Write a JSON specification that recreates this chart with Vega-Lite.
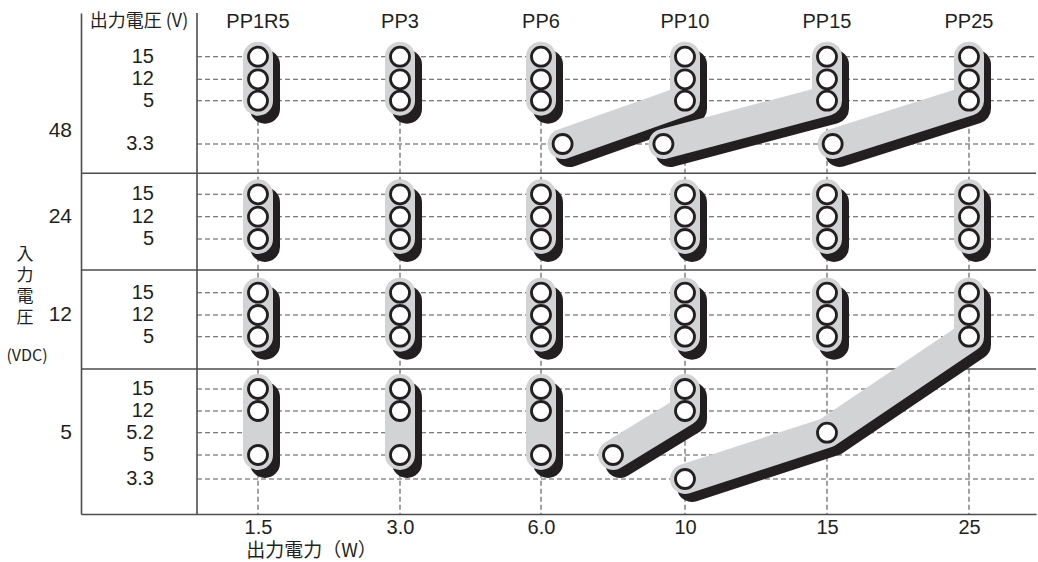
{
  "$schema": "https://vega.github.io/schema/vega-lite/v6.json",
  "width": 955,
  "height": 501,
  "autosize": {"type": "none"},
  "padding": {"left": 81, "top": 13, "right": 2, "bottom": 48},
  "background": "white",
  "config": {"view": {"stroke": null}, "font": "Liberation Sans"},
  "resolve": {"axis": {"x": "independent", "y": "independent"}},
  "datasets": {
    "shapes": [
      {"s": "a1", "m": "PP1R5", "vin": 48, "vout": 15, "w": 1.5, "seq": 1},
      {"s": "a1", "m": "PP1R5", "vin": 48, "vout": 12, "w": 1.5, "seq": 2},
      {"s": "a1", "m": "PP1R5", "vin": 48, "vout": 5, "w": 1.5, "seq": 3},
      {"s": "a2", "m": "PP3", "vin": 48, "vout": 15, "w": 3, "seq": 1},
      {"s": "a2", "m": "PP3", "vin": 48, "vout": 12, "w": 3, "seq": 2},
      {"s": "a2", "m": "PP3", "vin": 48, "vout": 5, "w": 3, "seq": 3},
      {"s": "a3", "m": "PP6", "vin": 48, "vout": 15, "w": 6, "seq": 1},
      {"s": "a3", "m": "PP6", "vin": 48, "vout": 12, "w": 6, "seq": 2},
      {"s": "a3", "m": "PP6", "vin": 48, "vout": 5, "w": 6, "seq": 3},
      {"s": "a4", "m": "PP10", "vin": 48, "vout": 3.3, "w": 6.6, "seq": 1},
      {"s": "a4", "m": "PP10", "vin": 48, "vout": 5, "w": 10, "seq": 2},
      {"s": "a4", "m": "PP10", "vin": 48, "vout": 12, "w": 10, "seq": 3},
      {"s": "a4", "m": "PP10", "vin": 48, "vout": 15, "w": 10, "seq": 4},
      {"s": "a5", "m": "PP15", "vin": 48, "vout": 3.3, "w": 9.4, "seq": 1},
      {"s": "a5", "m": "PP15", "vin": 48, "vout": 5, "w": 15, "seq": 2},
      {"s": "a5", "m": "PP15", "vin": 48, "vout": 12, "w": 15, "seq": 3},
      {"s": "a5", "m": "PP15", "vin": 48, "vout": 15, "w": 15, "seq": 4},
      {"s": "a6", "m": "PP25", "vin": 48, "vout": 3.3, "w": 15.4, "seq": 1},
      {"s": "a6", "m": "PP25", "vin": 48, "vout": 5, "w": 25, "seq": 2},
      {"s": "a6", "m": "PP25", "vin": 48, "vout": 12, "w": 25, "seq": 3},
      {"s": "a6", "m": "PP25", "vin": 48, "vout": 15, "w": 25, "seq": 4},
      {"s": "b1", "m": "PP1R5", "vin": 24, "vout": 15, "w": 1.5, "seq": 1},
      {"s": "b1", "m": "PP1R5", "vin": 24, "vout": 12, "w": 1.5, "seq": 2},
      {"s": "b1", "m": "PP1R5", "vin": 24, "vout": 5, "w": 1.5, "seq": 3},
      {"s": "b2", "m": "PP3", "vin": 24, "vout": 15, "w": 3, "seq": 1},
      {"s": "b2", "m": "PP3", "vin": 24, "vout": 12, "w": 3, "seq": 2},
      {"s": "b2", "m": "PP3", "vin": 24, "vout": 5, "w": 3, "seq": 3},
      {"s": "b3", "m": "PP6", "vin": 24, "vout": 15, "w": 6, "seq": 1},
      {"s": "b3", "m": "PP6", "vin": 24, "vout": 12, "w": 6, "seq": 2},
      {"s": "b3", "m": "PP6", "vin": 24, "vout": 5, "w": 6, "seq": 3},
      {"s": "b4", "m": "PP10", "vin": 24, "vout": 15, "w": 10, "seq": 1},
      {"s": "b4", "m": "PP10", "vin": 24, "vout": 12, "w": 10, "seq": 2},
      {"s": "b4", "m": "PP10", "vin": 24, "vout": 5, "w": 10, "seq": 3},
      {"s": "b5", "m": "PP15", "vin": 24, "vout": 15, "w": 15, "seq": 1},
      {"s": "b5", "m": "PP15", "vin": 24, "vout": 12, "w": 15, "seq": 2},
      {"s": "b5", "m": "PP15", "vin": 24, "vout": 5, "w": 15, "seq": 3},
      {"s": "b6", "m": "PP25", "vin": 24, "vout": 15, "w": 25, "seq": 1},
      {"s": "b6", "m": "PP25", "vin": 24, "vout": 12, "w": 25, "seq": 2},
      {"s": "b6", "m": "PP25", "vin": 24, "vout": 5, "w": 25, "seq": 3},
      {"s": "c1", "m": "PP1R5", "vin": 12, "vout": 15, "w": 1.5, "seq": 1},
      {"s": "c1", "m": "PP1R5", "vin": 12, "vout": 12, "w": 1.5, "seq": 2},
      {"s": "c1", "m": "PP1R5", "vin": 12, "vout": 5, "w": 1.5, "seq": 3},
      {"s": "c2", "m": "PP3", "vin": 12, "vout": 15, "w": 3, "seq": 1},
      {"s": "c2", "m": "PP3", "vin": 12, "vout": 12, "w": 3, "seq": 2},
      {"s": "c2", "m": "PP3", "vin": 12, "vout": 5, "w": 3, "seq": 3},
      {"s": "c3", "m": "PP6", "vin": 12, "vout": 15, "w": 6, "seq": 1},
      {"s": "c3", "m": "PP6", "vin": 12, "vout": 12, "w": 6, "seq": 2},
      {"s": "c3", "m": "PP6", "vin": 12, "vout": 5, "w": 6, "seq": 3},
      {"s": "c4", "m": "PP10", "vin": 12, "vout": 15, "w": 10, "seq": 1},
      {"s": "c4", "m": "PP10", "vin": 12, "vout": 12, "w": 10, "seq": 2},
      {"s": "c4", "m": "PP10", "vin": 12, "vout": 5, "w": 10, "seq": 3},
      {"s": "c5", "m": "PP15", "vin": 12, "vout": 15, "w": 15, "seq": 1},
      {"s": "c5", "m": "PP15", "vin": 12, "vout": 12, "w": 15, "seq": 2},
      {"s": "c5", "m": "PP15", "vin": 12, "vout": 5, "w": 15, "seq": 3},
      {"s": "d1", "m": "PP1R5", "vin": 5, "vout": 15, "w": 1.5, "seq": 1},
      {"s": "d1", "m": "PP1R5", "vin": 5, "vout": 12, "w": 1.5, "seq": 2},
      {"s": "d1", "m": "PP1R5", "vin": 5, "vout": 5, "w": 1.5, "seq": 3},
      {"s": "d2", "m": "PP3", "vin": 5, "vout": 15, "w": 3, "seq": 1},
      {"s": "d2", "m": "PP3", "vin": 5, "vout": 12, "w": 3, "seq": 2},
      {"s": "d2", "m": "PP3", "vin": 5, "vout": 5, "w": 3, "seq": 3},
      {"s": "d3", "m": "PP6", "vin": 5, "vout": 15, "w": 6, "seq": 1},
      {"s": "d3", "m": "PP6", "vin": 5, "vout": 12, "w": 6, "seq": 2},
      {"s": "d3", "m": "PP6", "vin": 5, "vout": 5, "w": 6, "seq": 3},
      {"s": "d4", "m": "PP10", "vin": 5, "vout": 5, "w": 8, "seq": 1},
      {"s": "d4", "m": "PP10", "vin": 5, "vout": 12, "w": 10, "seq": 2},
      {"s": "d4", "m": "PP10", "vin": 5, "vout": 15, "w": 10, "seq": 3},
      {"s": "d5", "m": "PP15/PP25", "vin": 5, "vout": 3.3, "w": 10, "seq": 1},
      {"s": "d5", "m": "PP15/PP25", "vin": 5, "vout": 5.2, "w": 15, "seq": 2},
      {"s": "d5", "m": "PP25", "vin": 12, "vout": 5, "w": 25, "seq": 3},
      {"s": "d5", "m": "PP25", "vin": 12, "vout": 12, "w": 25, "seq": 4},
      {"s": "d5", "m": "PP25", "vin": 12, "vout": 15, "w": 25, "seq": 5}
    ],
    "levels": [
      {"vin": 48, "vout": 15}, {"vin": 48, "vout": 12}, {"vin": 48, "vout": 5}, {"vin": 48, "vout": 3.3},
      {"vin": 24, "vout": 15}, {"vin": 24, "vout": 12}, {"vin": 24, "vout": 5},
      {"vin": 12, "vout": 15}, {"vin": 12, "vout": 12}, {"vin": 12, "vout": 5},
      {"vin": 5, "vout": 15}, {"vin": 5, "vout": 12}, {"vin": 5, "vout": 5.2}, {"vin": 5, "vout": 5}, {"vin": 5, "vout": 3.3}
    ],
    "vinLabels": [
      {"label": "48", "vin": 48, "vout": 3.8},
      {"label": "24", "vin": 24, "vout": 12},
      {"label": "12", "vin": 12, "vout": 12},
      {"label": "5", "vin": 5, "vout": 5.2}
    ],
    "models": [
      {"m": "PP1R5", "w": 1.5},
      {"m": "PP3", "w": 3},
      {"m": "PP6", "w": 6},
      {"m": "PP10", "w": 10},
      {"m": "PP15", "w": 15},
      {"m": "PP25", "w": 25}
    ]
  },
  "layer": [
    {
      "data": {"name": "shapes"},
      "transform": [{"calculate": "datum.vin * 100 + datum.vout", "as": "level"}],
      "mark": {"type": "point", "opacity": 0},
      "encoding": {
        "x": {
          "field": "w", "type": "quantitative",
          "scale": {"domain": [-3, 0, 1.5, 3, 6, 10, 15, 25, 30], "range": [0, 116, 177, 319, 460, 604, 746, 888, 955], "zero": false, "nice": false},
          "axis": {
            "values": [1.5, 3, 6, 10, 15, 25],
            "labelExpr": "datum.value < 10 ? format(datum.value, '.1f') : format(datum.value, 'd')",
            "ticks": false, "grid": false,
            "domainColor": "#4d4d4d", "domainWidth": 1.6,
            "labelFont": "Liberation Sans", "labelFontSize": 20, "labelColor": "#231f20", "labelPadding": 3,
            "labelFlush": false, "labelOverlap": false,
            "title": "出力電力（W）", "titleFont": "Noto Sans CJK JP", "titleFontSize": 19, "titleFontWeight": "normal",
            "titleColor": "#231f20", "titleX": 230, "titleY": 36, "titleAlign": "center", "titleBaseline": "middle"
          }
        },
        "y": {
          "field": "level", "type": "quantitative",
          "scale": {
            "domain": [500, 503.3, 505, 505.2, 512, 515, 1200, 1205, 1212, 1215, 2400, 2405, 2412, 2415, 4800, 4803.3, 4805, 4812, 4815, 4820],
            "range": [501, 466, 442, 419.7, 398, 376, 356, 323.7, 302, 279.7, 257, 226, 203.7, 181.3, 160.3, 131, 87.7, 66.3, 43.7, 0],
            "zero": false, "nice": false
          },
          "axis": {
            "ticks": false, "labels": false, "grid": false, "title": null,
            "domainColor": "#4d4d4d", "domainWidth": 1.6
          }
        }
      }
    },
    {
      "data": {"values": [{}]},
      "mark": {"type": "rule", "color": "#4d4d4d", "strokeWidth": 1.6},
      "encoding": {"x": {"datum": 0, "axis": null}}
    },
    {
      "data": {"values": [{"b": 4800}, {"b": 2400}, {"b": 1200}]},
      "mark": {"type": "rule", "color": "#4d4d4d", "strokeWidth": 1.6},
      "encoding": {"y": {"field": "b", "type": "quantitative", "axis": null}}
    },
    {
      "data": {"name": "levels"},
      "transform": [{"calculate": "datum.vin * 100 + datum.vout", "as": "level"}],
      "mark": {"type": "rule", "color": "#555555", "strokeWidth": 1.1, "strokeDash": [5, 3]},
      "encoding": {
        "x": {"datum": 0, "axis": null},
        "x2": {"datum": 30},
        "y": {"field": "level", "type": "quantitative", "axis": null}
      }
    },
    {
      "data": {"name": "models"},
      "mark": {"type": "rule", "color": "#555555", "strokeWidth": 1.1, "strokeDash": [5, 3]},
      "encoding": {
        "x": {"field": "w", "type": "quantitative", "axis": null},
        "y": {"datum": 4815, "axis": null},
        "y2": {"datum": 500}
      }
    },
    {
      "data": {"name": "shapes"},
      "transform": [{"calculate": "datum.vin * 100 + datum.vout", "as": "level"}],
      "mark": {"type": "line", "color": "#231f20", "strokeWidth": 30, "strokeCap": "round", "strokeJoin": "round", "xOffset": 7, "yOffset": 8},
      "encoding": {
        "x": {"field": "w", "type": "quantitative", "axis": null},
        "y": {"field": "level", "type": "quantitative", "axis": null},
        "detail": {"field": "s"},
        "order": {"field": "seq"}
      }
    },
    {
      "data": {"name": "shapes"},
      "transform": [{"calculate": "datum.vin * 100 + datum.vout", "as": "level"}],
      "mark": {"type": "line", "color": "#d1d3d4", "strokeWidth": 30, "strokeCap": "round", "strokeJoin": "round"},
      "encoding": {
        "x": {"field": "w", "type": "quantitative", "axis": null},
        "y": {"field": "level", "type": "quantitative", "axis": null},
        "detail": {"field": "s"},
        "order": {"field": "seq"}
      }
    },
    {
      "data": {"name": "shapes"},
      "transform": [{"calculate": "datum.vin * 100 + datum.vout", "as": "level"}],
      "mark": {"type": "point", "shape": "circle", "filled": true, "fill": "white", "stroke": "#231f20", "strokeWidth": 2.8, "size": 361, "opacity": 1},
      "encoding": {
        "x": {"field": "w", "type": "quantitative", "axis": null},
        "y": {"field": "level", "type": "quantitative", "axis": null}
      }
    },
    {
      "data": {"name": "levels"},
      "transform": [{"calculate": "datum.vin * 100 + datum.vout", "as": "level"}],
      "mark": {"type": "text", "align": "right", "baseline": "middle", "dx": -43, "font": "Liberation Sans", "fontSize": 20, "color": "#231f20"},
      "encoding": {
        "x": {"datum": 0, "axis": null},
        "y": {"field": "level", "type": "quantitative", "axis": null},
        "text": {"field": "vout", "type": "nominal"}
      }
    },
    {
      "data": {"name": "vinLabels"},
      "transform": [{"calculate": "datum.vin * 100 + datum.vout", "as": "level"}],
      "mark": {"type": "text", "align": "right", "baseline": "middle", "dx": -9, "font": "Liberation Sans", "fontSize": 21, "color": "#231f20"},
      "encoding": {
        "x": {"datum": -3, "axis": null},
        "y": {"field": "level", "type": "quantitative", "axis": null},
        "text": {"field": "label", "type": "nominal"}
      }
    },
    {
      "data": {"values": [{"t": ["入", "力", "電", "圧"]}]},
      "mark": {"type": "text", "align": "center", "baseline": "middle", "dx": -56, "dy": -15, "lineHeight": 21, "font": "Noto Sans CJK JP", "fontSize": 17, "color": "#231f20"},
      "encoding": {
        "x": {"datum": -3, "axis": null},
        "y": {"datum": 2400, "axis": null},
        "text": {"field": "t"}
      }
    },
    {
      "data": {"values": [{"t": "(VDC)"}]},
      "mark": {"type": "text", "align": "center", "baseline": "middle", "dx": -54, "dy": -13, "font": "Noto Sans CJK JP", "fontSize": 16, "color": "#231f20"},
      "encoding": {
        "x": {"datum": -3, "axis": null},
        "y": {"datum": 1200, "axis": null},
        "text": {"field": "t", "type": "nominal"}
      }
    },
    {
      "data": {"name": "models"},
      "mark": {"type": "text", "align": "center", "baseline": "middle", "font": "Liberation Sans", "fontSize": 20, "color": "#231f20"},
      "encoding": {
        "x": {"field": "w", "type": "quantitative", "axis": null},
        "y": {"datum": 4819, "axis": null},
        "text": {"field": "m", "type": "nominal"}
      }
    },
    {
      "data": {"values": [{"t": "出力電圧 (V)"}]},
      "mark": {"type": "text", "align": "center", "baseline": "middle", "font": "Noto Sans CJK JP", "fontSize": 18, "color": "#231f20"},
      "encoding": {
        "x": {"datum": -1.5, "axis": null},
        "y": {"datum": 4819, "axis": null},
        "text": {"field": "t", "type": "nominal"}
      }
    }
  ]
}
